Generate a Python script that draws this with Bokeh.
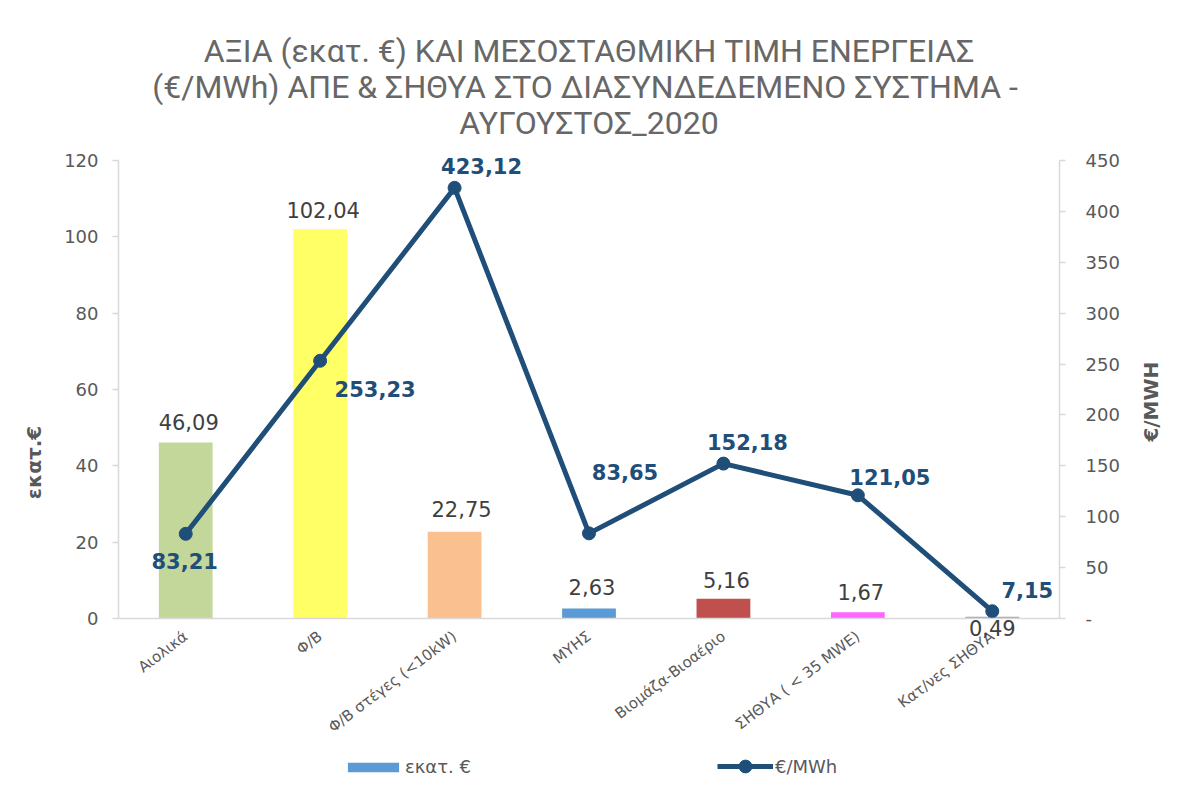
import math
from bokeh.plotting import figure
from bokeh.models import (FactorRange, Range1d, LinearAxis, SingleIntervalTicker,
                          ColumnDataSource, LabelSet, Legend, LegendItem, Title)
from bokeh.core.properties import value
from bokeh.embed import file_html
from bokeh.resources import INLINE

# ---- data ----
categories = ["Αιολικά", "Φ/Β", "Φ/Β στέγες (<10kW)", "ΜΥΗΣ", "Βιομάζα-Βιοαέριο",
              "ΣΗΘΥΑ ( < 35 MWE)", "Κατ/νες ΣΗΘΥΑ"]
value_meur = [46.09, 102.04, 22.75, 2.63, 5.16, 1.67, 0.49]
price_eur_mwh = [83.21, 253.23, 423.12, 83.65, 152.18, 121.05, 7.15]
bar_colors = ["#C4D79B", "#FFFF66", "#FAC090", "#5B9BD5", "#C0504D", "#FF66FF", "#A5A5A5"]
title_lines = ["ΑΞΙΑ (εκατ. €) ΚΑΙ ΜΕΣΟΣΤΑΘΜΙΚΗ ΤΙΜΗ ΕΝΕΡΓΕΙΑΣ",
               "(€/MWh) ΑΠΕ & ΣΗΘΥΑ  ΣΤΟ ΔΙΑΣΥΝΔΕΔΕΜΕΝΟ ΣΥΣΤΗΜΑ -",
               "ΑΥΓΟΥΣΤΟΣ_2020"]
left_max, left_step = 120, 20
right_max, right_step = 450, 50

# label placement (styling, screen px: dx right, dy up)
bar_lab_dx = [3, 3, 7, 3, 3, 3, 0]
bar_lab_dy = [21, 19, 23, 21, 19, 20, -11]
line_lab_dx = [-1, 55, 27, 36, 24, 32, 35]
line_lab_dy = [-27, -28, 22, 61, 22, 18, 21]

def fmt(v):
    return f"{v:.2f}".replace(".", ",")

GRAY = "#595959"
NAVY = "#1F4E79"
AXIS = "#D9D9D9"
FONT = "DejaVu Sans"

src = ColumnDataSource(dict(
    cat=categories, val=value_meur, price=price_eur_mwh, color=bar_colors,
    val_txt=[fmt(v) for v in value_meur], price_txt=[fmt(v) for v in price_eur_mwh],
    bdx=bar_lab_dx, bdy=bar_lab_dy, ldx=line_lab_dx, ldy=line_lab_dy,
))

# the frame reaches down to the legend; the value axes are bounded to their data span
W, H = 1177, 791
FL, FR, FT, FB = 118, 1063, 139, 785
ZERO = 618                                # pixel row of the zero line
ppu = (ZERO - 160) / left_max             # pixels per left-axis unit
hi = left_max + (160 - FT) / ppu
lo = -(FB - ZERO) / ppu
k = right_max / left_max

p = figure(width=W, height=H, output_backend="svg", toolbar_location=None,
           x_range=FactorRange(factors=categories), y_range=Range1d(lo, hi),
           min_border_left=FL, min_border_right=W - FR, min_border_top=FT,
           min_border_bottom=H - FB)
p.outline_line_color = None
p.xgrid.grid_line_color = None
p.ygrid.grid_line_color = None
p.background_fill_color = "white"
p.border_fill_color = "white"

# titles (added closest-first)
for t in reversed(title_lines):
    p.add_layout(Title(text=t, align="center", text_font="Roboto",
                       text_font_size="32px", text_font_style="normal",
                       text_color="#676767", standoff=-4), "above")

def style_y(ax, standoff):
    ax.axis_line_color = AXIS
    ax.axis_line_width = 1.5
    ax.major_tick_line_color = AXIS
    ax.major_tick_line_width = 1.5
    ax.major_tick_out = 6
    ax.major_tick_in = 0
    ax.minor_tick_line_color = None
    ax.major_label_text_font = FONT
    ax.major_label_text_font_size = "18px"
    ax.major_label_text_color = GRAY
    ax.major_label_standoff = standoff
    ax.axis_label_text_font = FONT
    ax.axis_label_text_font_style = "bold"
    ax.axis_label_text_font_size = "20px"
    ax.axis_label_text_color = GRAY

# left axis
ya = p.yaxis[0]
ya.ticker = SingleIntervalTicker(interval=left_step)
ya.bounds = (0, left_max)
style_y(ya, 14)
ya.axis_label = "εκατ.€"
ya.axis_label_standoff = 15

# right axis
p.extra_y_ranges = {"price": Range1d(lo * k, hi * k)}
ra = LinearAxis(y_range_name="price", ticker=SingleIntervalTicker(interval=right_step))
ra.bounds = (0, right_max)
style_y(ra, 20)
ra.major_label_overrides = {0: "-"}
ra.axis_label = "\u00a0" * 3 + "€/MWH"
ra.axis_label_standoff = 28
if "axis_label_orientation" in ra.properties():
    ra.axis_label_orientation = math.pi / 2
p.add_layout(ra, "right")

# x axis drawn on the zero line
xa = p.xaxis[0]
xa.fixed_location = 0
xa.axis_line_color = AXIS
xa.axis_line_width = 1.5
xa.major_tick_line_color = None
xa.minor_tick_line_color = None
xa.major_label_orientation = 0.65
xa.major_label_text_font = FONT
xa.major_label_text_font_size = "15px"
xa.major_label_text_color = GRAY
xa.major_label_standoff = 10

# bars
bars = p.vbar(x="cat", top="val", width=0.40, fill_color="color", line_color=None, source=src)
# line
ln = p.line(x="cat", y="price", y_range_name="price", line_width=5, line_color=NAVY, source=src)
sc = p.scatter(x="cat", y="price", y_range_name="price", size=13, fill_color=NAVY,
               line_color=NAVY, source=src)

# labels
p.add_layout(LabelSet(x="cat", y="val", text="val_txt", source=src, x_offset="bdx", y_offset="bdy",
                      text_align="center", text_baseline="middle", text_font=value(FONT),
                      text_font_size="21px", text_color="#404040"))
p.add_layout(LabelSet(x="cat", y="price", text="price_txt", source=src, y_range_name="price",
                      x_offset="ldx", y_offset="ldy", text_align="center", text_baseline="middle",
                      text_font=value(FONT), text_font_style="bold", text_font_size="21px",
                      text_color=NAVY))

# legends (two, so each glyph gets its own box size)
common = dict(orientation="horizontal", padding=0, margin=0, border_line_color=None,
              background_fill_alpha=0, label_text_font=FONT, label_text_font_size="18px",
              label_text_color=GRAY)
leg1 = Legend(items=[LegendItem(label="εκατ. €", renderers=[bars], index=3)],
              location=(223, 8), glyph_width=64, glyph_height=12, label_standoff=-1, **common)
leg2 = Legend(items=[LegendItem(label="€/MWh", renderers=[ln, sc])],
              location=(599, 3), glyph_width=56, glyph_height=32, label_standoff=2, **common)
p.add_layout(leg1, "center")
p.add_layout(leg2, "center")

open("out.html", "w").write(file_html(p, INLINE))
